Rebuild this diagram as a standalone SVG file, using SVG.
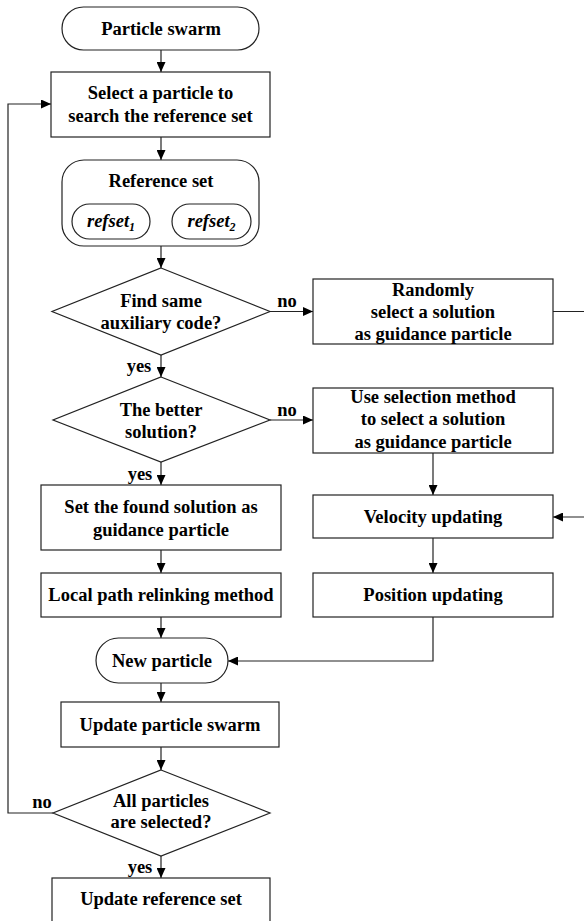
<svg xmlns="http://www.w3.org/2000/svg" width="584" height="921" viewBox="0 0 584 921">
<style>
.s{fill:#fff;stroke:#222;stroke-width:1.2}
.t{font-family:"Liberation Serif","Times New Roman",serif;font-weight:bold;font-size:18.5px;fill:#000;text-anchor:middle}
.i{font-style:italic}
.l{fill:none;stroke:#222;stroke-width:1.2}
</style>
<defs>
<marker id="a" markerUnits="userSpaceOnUse" markerWidth="10" markerHeight="9" refX="10" refY="4.5" orient="auto">
<path d="M0,0 L10,4.5 L0,9 z" fill="#000"/>
</marker>
</defs>
<rect width="584" height="921" fill="#fff"/>
<g id="connectors">
<path class="l" marker-end="url(#a)" d="M161,50 V72"/>
<path class="l" marker-end="url(#a)" d="M161,137 V160"/>
<path class="l" marker-end="url(#a)" d="M161,246 V268"/>
<path class="l" marker-end="url(#a)" d="M270,311.5 H313"/>
<path class="l" marker-end="url(#a)" d="M161,355 V377"/>
<path class="l" marker-end="url(#a)" d="M270,420 H313"/>
<path class="l" marker-end="url(#a)" d="M161,462 V485"/>
<path class="l" marker-end="url(#a)" d="M433,453 V495"/>
<path class="l" marker-end="url(#a)" d="M553,311.5 H585 V517 H553"/>
<path class="l" marker-end="url(#a)" d="M161,550 V573"/>
<path class="l" marker-end="url(#a)" d="M433,538 V573"/>
<path class="l" marker-end="url(#a)" d="M161,617 V638"/>
<path class="l" marker-end="url(#a)" d="M433,617 V661 H228"/>
<path class="l" marker-end="url(#a)" d="M161,683 V702"/>
<path class="l" marker-end="url(#a)" d="M161,747 V770"/>
<path class="l" marker-end="url(#a)" d="M53,813 H8 V104 H51"/>
<path class="l" marker-end="url(#a)" d="M161,856 V878"/>
<text class="t" x="287" y="307">no</text>
<text class="t" x="287" y="416">no</text>
<text class="t" x="42" y="808">no</text>
<text class="t" x="139" y="372">yes</text>
<text class="t" x="140" y="480">yes</text>
<text class="t" x="140" y="873">yes</text>
</g>
<g id="particle-swarm">
<rect class="s" x="62" y="7" width="197" height="43" rx="21.5"/>
<text class="t" x="161" y="35">Particle swarm</text>
</g>
<g id="select-particle">
<rect class="s" x="51" y="72" width="219" height="65"/>
<text class="t" x="160.5" y="99">Select a particle to</text>
<text class="t" x="160.5" y="122">search the reference set</text>
</g>
<g id="reference-set">
<rect class="s" x="62" y="160" width="197" height="86" rx="22"/>
<text class="t" x="161" y="187">Reference set</text>
<rect class="s" x="72" y="204" width="78" height="35" rx="17.5"/>
<text class="t i" x="111" y="227">refset<tspan font-size="12" dy="4">1</tspan></text>
<rect class="s" x="172" y="204" width="79" height="35" rx="17.5"/>
<text class="t i" x="211.5" y="227">refset<tspan font-size="12" dy="4">2</tspan></text>
</g>
<g id="find-same">
<polygon class="s" points="161,268 270,311.5 161,355 52,311.5"/>
<text class="t" x="161" y="307">Find same</text>
<text class="t" x="161" y="329">auxiliary code?</text>
</g>
<g id="randomly">
<rect class="s" x="313" y="279" width="240" height="65"/>
<text class="t" x="433" y="296">Randomly</text>
<text class="t" x="433" y="318">select a solution</text>
<text class="t" x="433" y="340">as guidance particle</text>
</g>
<g id="better-solution">
<polygon class="s" points="161,377 270,420 161,462 53,420"/>
<text class="t" x="161" y="416">The better</text>
<text class="t" x="161" y="438">solution?</text>
</g>
<g id="use-selection">
<rect class="s" x="313" y="388" width="240" height="65"/>
<text class="t" x="433" y="403">Use selection method</text>
<text class="t" x="433" y="425">to select a solution</text>
<text class="t" x="433" y="448">as guidance particle</text>
</g>
<g id="set-found">
<rect class="s" x="41" y="485" width="240" height="65"/>
<text class="t" x="161" y="513">Set the found solution as</text>
<text class="t" x="161" y="536">guidance particle</text>
</g>
<g id="velocity">
<rect class="s" x="313" y="495" width="240" height="43"/>
<text class="t" x="433" y="523">Velocity updating</text>
</g>
<g id="local-path">
<rect class="s" x="41" y="573" width="240" height="44"/>
<text class="t" x="161" y="601">Local path relinking method</text>
</g>
<g id="position">
<rect class="s" x="313" y="573" width="240" height="44"/>
<text class="t" x="433" y="601">Position updating</text>
</g>
<g id="new-particle">
<rect class="s" x="96" y="638" width="132" height="45" rx="22.5"/>
<text class="t" x="162" y="667">New particle</text>
</g>
<g id="update-swarm">
<rect class="s" x="61" y="702" width="218" height="45"/>
<text class="t" x="170" y="731">Update particle swarm</text>
</g>
<g id="all-selected">
<polygon class="s" points="161,770 270,813 161,856 53,813"/>
<text class="t" x="161" y="807">All particles</text>
<text class="t" x="161" y="828">are selected?</text>
</g>
<g id="update-reference">
<rect class="s" x="52" y="878" width="218" height="44"/>
<text class="t" x="161" y="905">Update reference set</text>
</g>
</svg>
